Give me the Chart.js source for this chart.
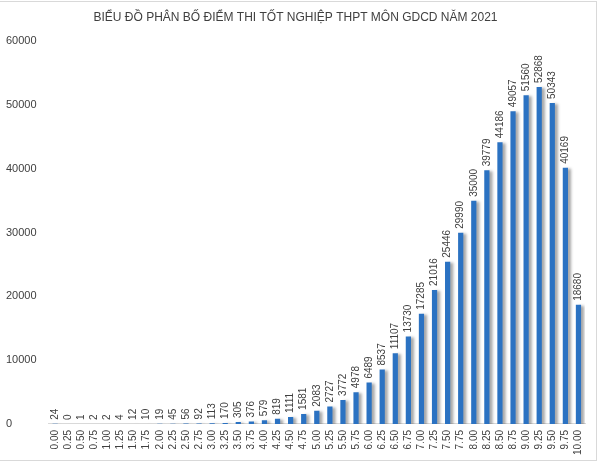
<!DOCTYPE html>
<html>
<head>
<meta charset="utf-8">
<script src="https://cdn.jsdelivr.net/npm/chart.js@4/dist/chart.umd.min.js"></script>
<style>
  html, body { margin: 0; padding: 0; background: #fff; }
  #wrap { width: 599px; height: 466px; }
</style>
</head>
<body>
<div id="wrap"><canvas id="chart"></canvas></div>
<script>
// diem (score) categories
const scores = ['0.00','0.25','0.50','0.75','1.00','1.25','1.50','1.75','2.00','2.25',
  '2.50','2.75','3.00','3.25','3.50','3.75','4.00','4.25','4.50','4.75',
  '5.00','5.25','5.50','5.75','6.00','6.25','6.50','6.75','7.00','7.25',
  '7.50','7.75','8.00','8.25','8.50','8.75','9.00','9.25','9.50','9.75','10.00'];
// so thi sinh (number of candidates)
const counts = [24, 0, 1, 2, 2, 4, 12, 10, 19, 45,
  56, 92, 113, 170, 305, 376, 579, 819, 1111, 1581,
  2083, 2727, 3772, 4978, 6489, 8537, 11107, 13730, 17285, 21016,
  25446, 29990, 35000, 39779, 44186, 49057, 51560, 52868, 50343, 40169, 18680];
const yTicks = [0, 10000, 20000, 30000, 40000, 50000, 60000];
const title = 'BIỂU ĐỒ PHÂN BỐ ĐIỂM THI TỐT NGHIỆP THPT MÔN GDCD NĂM 2021';

const fontName = '"Liberation Sans", Arial, sans-serif';

// khung vien quanh bieu do
const frame = {
    id: 'frame',
    beforeDraw(chart) {
        const ctx = chart.ctx;
        ctx.save();
        ctx.strokeStyle = '#d9d9d9';
        ctx.lineWidth = 1;
        ctx.strokeRect(-1, 1.5, 597.5, 459);
        ctx.restore();
    }
};

// bong do cho cot
const shadow = {
    id: 'shadow',
    beforeDatasetDraw(chart) {
        const ctx = chart.ctx;
        ctx.save();
        ctx.shadowColor = 'rgba(0,0,0,0.35)';
        ctx.shadowBlur = 3;
        ctx.shadowOffsetX = 3;
        ctx.shadowOffsetY = 1;
    },
    afterDatasetDraw(chart) {
        chart.ctx.restore();
    }
};

// nhan gia tri xoay doc tren moi cot
const valueLabels = {
    id: 'valueLabels',
    afterDatasetsDraw(chart) {
        const ctx = chart.ctx;
        const meta = chart.getDatasetMeta(0);
        ctx.save();
        ctx.fillStyle = '#404040';
        ctx.font = '10px ' + fontName;
        ctx.textAlign = 'left';
        ctx.textBaseline = 'middle';
        meta.data.forEach((bar, i) => {
            ctx.save();
            ctx.translate(bar.x, bar.y - 4);
            ctx.rotate(-Math.PI / 2);
            ctx.fillText(String(counts[i]), 0, 0);
            ctx.restore();
        });
        ctx.restore();
    }
};

const config = {
    type: 'bar',
    data: {
        labels: scores,
        datasets: [{
            data: counts,
            backgroundColor: '#2b72c2',
            barPercentage: 0.4,
            categoryPercentage: 1
        }]
    },
    options: {
        responsive: true,
        maintainAspectRatio: false,
        animation: false,
        layout: { padding: { top: 0, left: 6, right: 14, bottom: 5 } },
        plugins: {
            legend: { display: false },
            tooltip: { enabled: false },
            title: {
                display: true,
                text: title,
                color: '#404040',
                font: { family: fontName, size: 12, weight: 'normal' },
                padding: { top: 10, bottom: 17 }
            }
        },
        scales: {
            x: {
                grid: { display: false, drawTicks: false },
                border: { display: true, color: '#d9d9d9' },
                ticks: {
                    color: '#404040',
                    font: { family: fontName, size: 10 },
                    minRotation: 90,
                    maxRotation: 90,
                    autoSkip: false,
                    padding: 6
                }
            },
            y: {
                min: 0,
                max: 60000,
                grid: { display: false, drawTicks: false },
                border: { display: false },
                afterBuildTicks(scale) {
                    scale.ticks = yTicks.map(v => ({ value: v }));
                },
                ticks: {
                    color: '#404040',
                    font: { family: fontName, size: 11 },
                    crossAlign: 'far',
                    padding: 6,
                    callback: v => String(v)
                }
            }
        }
    },
    plugins: [frame, shadow, valueLabels]
};

let canvas = document.getElementById('chart');
let ctx = canvas.getContext('2d');
var myChart = new Chart(ctx, config);
</script>
</body>
</html>
